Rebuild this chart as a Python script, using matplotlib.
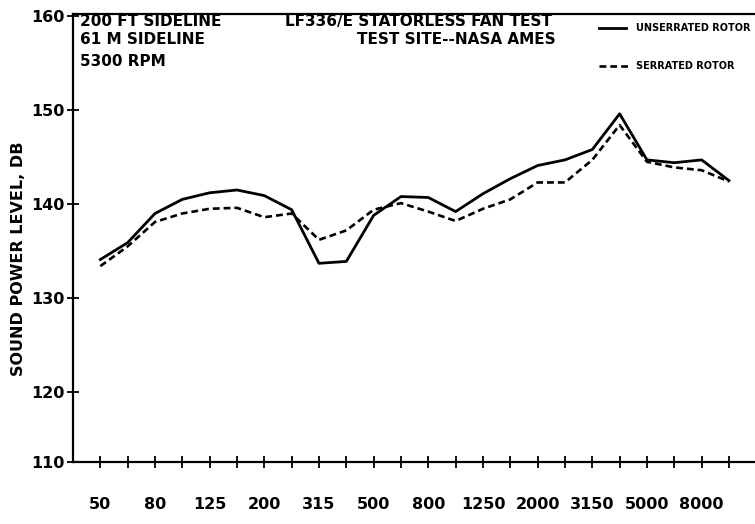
import matplotlib
matplotlib.use("Agg")
import matplotlib.pyplot as plt
import numpy as np

plt.rcParams['font.family'] = ['DejaVu Sans']
plt.rcParams['font.weight'] = 'bold'
plt.rcParams['axes.labelweight'] = 'bold'

# 1/3 octave band centre frequencies, Hz
bands = [50, 63, 80, 100, 125, 160, 200, 250, 315, 400, 500, 630,
         800, 1000, 1250, 1600, 2000, 2500, 3150, 4000, 5000, 6300, 8000, 10000]
band_labels = ['50', '80', '125', '200', '315', '500', '800', '1250',
               '2000', '3150', '5000', '8000']

unserrated = [134.1, 135.9, 139.0, 140.5, 141.2, 141.5, 140.9, 139.4,
              133.7, 133.9, 138.8, 140.8, 140.7, 139.2, 141.1, 142.7,
              144.1, 144.7, 145.8, 149.6, 144.7, 144.4, 144.7, 142.5]
serrated = [133.4, 135.5, 138.1, 139.0, 139.5, 139.6, 138.6, 139.0,
            136.2, 137.2, 139.4, 140.1, 139.2, 138.2, 139.5, 140.5,
            142.3, 142.3, 144.7, 148.4, 144.5, 143.9, 143.6, 142.4]

x = np.arange(len(bands))

fig = plt.figure(figsize=(7.55, 5.24), dpi=100)
ax = fig.add_axes([0.0967, 0.118, 0.905, 0.855])

dash = (0, (2.6, 1.5))
ax.plot(x, unserrated, color='black', lw=2.0)
ax.plot(x, serrated, color='black', lw=1.9, linestyle=dash)

# axis as on the original plot (bottom edge labelled 110)
ymin = 112.55
ax.set_xlim(-1, 24)
ax.set_ylim(ymin, 160.2)
ax.set_xticks(x)
ax.set_xticklabels([str(b) if str(b) in band_labels else '' for b in bands])
ax.set_yticks([ymin, 120, 130, 140, 150, 160])
ax.set_yticklabels(['110', '120', '130', '140', '150', '160'])
ax.tick_params(direction='inout', length=8, width=1.3, labelsize=11.5, pad=2)
ax.tick_params(axis='x', pad=21)

for s in ['left', 'bottom', 'top']:
    ax.spines[s].set_linewidth(1.6)
ax.spines['right'].set_color('#bbbbbb')
ax.spines['right'].set_linestyle((0, (3, 4)))

ax.set_ylabel('SOUND POWER LEVEL, DB', fontsize=11.5)
ax.yaxis.set_label_coords(-0.069, 0.455)

tkw = dict(fontsize=11, fontweight='bold', va='top')
fig.text(0.106, 0.9725, '200 FT SIDELINE', ha='left', **tkw)
fig.text(0.106, 0.9385, '61 M SIDELINE', ha='left', **tkw)
fig.text(0.106, 0.8960, '5300 RPM', ha='left', **tkw)
fig.text(0.554, 0.9725, 'LF336/E STATORLESS FAN TEST', ha='center', **tkw)
fig.text(0.604, 0.9385, 'TEST SITE--NASA AMES', ha='center', **tkw)

# legend drawn by hand
ax.plot([18.24, 19.23], [158.7, 158.7], color='black', lw=2.0, clip_on=False)
ax.plot([18.24, 19.33], [154.7, 154.7], color='black', lw=1.9,
        linestyle=dash, clip_on=False)
ax.text(19.6, 158.7, 'UNSERRATED ROTOR', fontsize=7, va='center', ha='left')
ax.text(19.6, 154.7, 'SERRATED ROTOR', fontsize=7, va='center', ha='left')

fig.savefig('out.png', dpi=100)
